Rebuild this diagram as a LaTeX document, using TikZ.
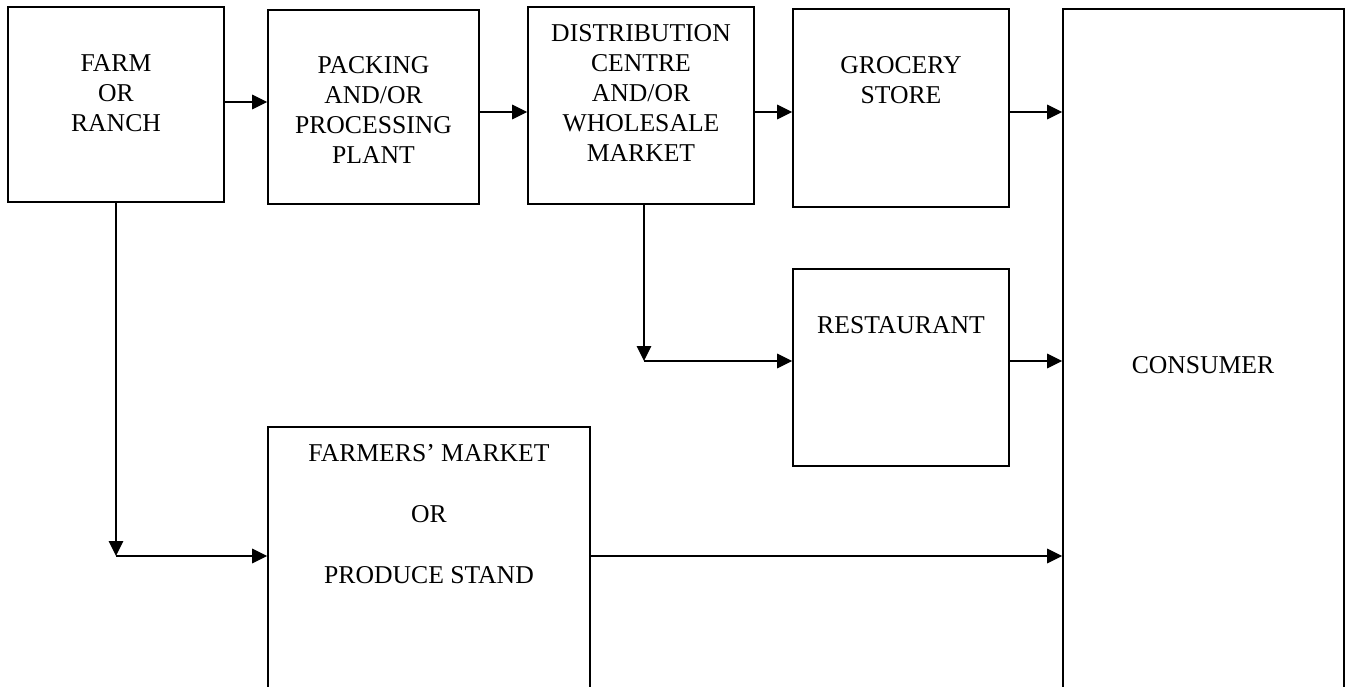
\documentclass[tikz,border=0pt]{standalone}
\usepackage{fontspec}
\setmainfont{Liberation Serif}
\usetikzlibrary{arrows.meta}

\tikzset{
  box/.style 2 args={draw, line width=0.9pt, minimum width=#1*0.02cm, minimum height=#2*0.02cm, inner sep=0pt},
  txt/.style={align=center, inner sep=0pt, font=\fontsize{14.6}{17.1}\selectfont},
  txtwide/.style={align=center, inner sep=0pt, font=\fontsize{14.6}{34.8}\selectfont},
  arr/.style={-{Triangle[length=3mm,width=2.9mm]}, line width=0.8pt}
}

\begin{document}
\begin{tikzpicture}[x=0.02cm,y=-0.02cm]

    \useasboundingbox (0,0) rectangle (1351,686);
    \clip (0,0) rectangle (1351,686);

    % boxes
    \node[box={216}{195}] (farm) at (116,104.5) {};
    \node[box={211}{194}] (pack) at (373.5,107) {};
    \node[box={226}{197}] (dist) at (641,105.5) {};
    \node[box={216}{198}] (groc) at (901,108) {};
    \node[box={216}{197}] (rest) at (901,367.5) {};
    \node[box={322}{323}] (stand) at (429,588.5) {};
    \node[box={281}{741}] (cons) at (1203.5,379.5) {};

    % labels
    \node[txt] (farmtxt) at (116,93) {FARM\\OR\\RANCH};
    \node[txt] (packtxt) at (373.5,110) {PACKING\\AND/OR\\PROCESSING\\PLANT};
    \node[txt] (disttxt) at (641,93) {DISTRIBUTION\\CENTRE\\AND/OR\\WHOLESALE\\MARKET};
    \node[txt] (groctxt) at (901,80.5) {GROCERY\\STORE};
    \node[txt] (resttxt) at (901,325) {RESTAURANT};
    \node[txtwide] (standtxt) at (429,514) {FARMERS’ MARKET\\OR\\PRODUCE STAND};
    \node[txt] (constxt) at (1203,365) {CONSUMER};

    % top row
    \draw[arr] (farm.east |- 0,102) -- (pack.west |- 0,102);
    \draw[arr] (pack.east |- 0,112) -- (dist.west |- 0,112);
    \draw[arr] (dist.east |- 0,112) -- (groc.west |- 0,112);
    \draw[arr] (groc.east |- 0,112) -- (cons.west |- 0,112);

    % via restaurant
    \coordinate (bendr) at (644,361);
    \draw[arr] (dist.south -| bendr) -- (bendr);
    \draw[arr] (bendr) -- (rest.west |- bendr);
    \draw[arr] (rest.east |- bendr) -- (cons.west |- bendr);

    % via farmers' market
    \coordinate (bendf) at (116,556);
    \draw[arr] (farm.south) -- (bendf);
    \draw[arr] (bendf) -- (stand.west |- bendf);
    \draw[arr] (stand.east |- bendf) -- (cons.west |- bendf);

\end{tikzpicture}
\end{document}
